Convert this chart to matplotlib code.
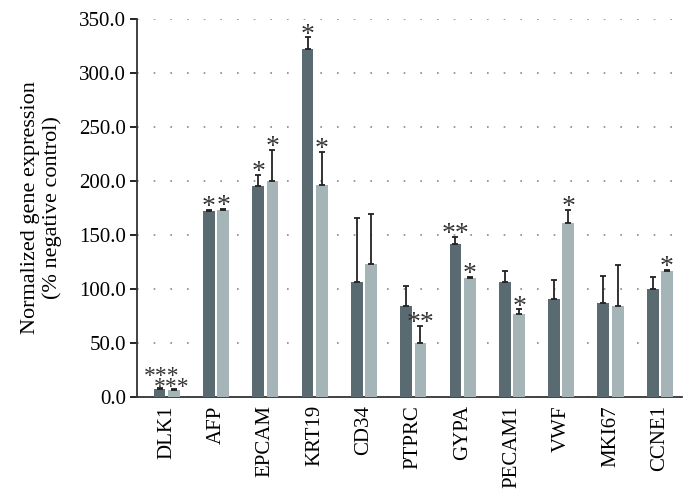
import numpy as np
import matplotlib
matplotlib.use("Agg")
import matplotlib.pyplot as plt

plt.rcParams['font.family'] = ['Liberation Serif', 'DejaVu Serif']

genes = ['DLK1', 'AFP', 'EPCAM', 'KRT19', 'CD34', 'PTPRC', 'GYPA',
         'PECAM1', 'VWF', 'MKI67', 'CCNE1']
dark_vals = [7, 172, 195, 322, 106, 84, 142, 106, 91, 87, 100]
dark_err = [1, 1, 11, 11, 60, 19, 6, 11, 17, 25, 11]
light_vals = [6, 173, 200, 196, 123, 50, 110, 77, 161, 84, 117]
light_err = [1, 1, 29, 31, 46, 16, 1, 4, 12, 38, 1]
dark_stars = ['***', '*', '*', '*', '', '', '**', '', '', '', '']
light_stars = ['***', '*', '*', '*', '', '**', '*', '*', '*', '', '*']

dark_col = '#5a6a71'
light_col = '#a5b4b7'

fig = plt.figure(figsize=(6.96, 5.03), dpi=100)
ax = fig.add_axes([0.197, 0.211, 0.783, 0.751])

x = np.arange(len(genes))
w = 0.24
off = 0.145

ax.bar(x - off, dark_vals, w, color=dark_col, zorder=3)
ax.bar(x + off, light_vals, w, color=light_col, zorder=3)
ax.errorbar(x - off, dark_vals, yerr=[np.zeros(len(x)), dark_err], fmt='none',
            ecolor='#222222', elinewidth=1.3, capsize=2.5, capthick=1.3, zorder=4)
ax.errorbar(x + off, light_vals, yerr=[np.zeros(len(x)), light_err], fmt='none',
            ecolor='#222222', elinewidth=1.3, capsize=2.5, capthick=1.3, zorder=4)

star_kw = dict(ha='center', va='baseline', fontsize=20, color='#333333', zorder=5)
for i in range(len(genes)):
    if i == 0:
        # DLK1: two stacked rows of stars, tightly packed
        small = dict(star_kw, fontsize=17)
        ax.text(x[i] - off + 0.05, 14, dark_stars[i], **small)
        ax.text(x[i] + off - 0.04, 4, light_stars[i], **small)
        continue
    if dark_stars[i]:
        ax.text(x[i] - off, dark_vals[i] + dark_err[i] - 4, dark_stars[i], **star_kw)
    if light_stars[i]:
        ax.text(x[i] + off, light_vals[i] + light_err[i] - 4, light_stars[i], **star_kw)

ax.set_xlim(-0.6, 10.45)
ax.set_ylim(0, 350)
ax.set_yticks(np.arange(0, 351, 50))
ax.set_yticklabels(['%.1f' % v for v in np.arange(0, 351, 50)], fontsize=15)
ax.set_xticks(x)
ax.set_xticklabels(genes, rotation=90, fontsize=15)
ax.tick_params(axis='x', length=0, pad=6)
ax.tick_params(axis='y', length=5, width=1.2, direction='out', pad=3)

ax.yaxis.grid(True, linestyle=(0, (1, 9)), color='#888888', linewidth=1.2, zorder=0)
ax.spines['top'].set_visible(False)
ax.spines['right'].set_visible(False)
ax.spines['left'].set_linewidth(1.3)
ax.spines['bottom'].set_linewidth(1.3)
ax.spines['left'].set_color('#333333')
ax.spines['bottom'].set_color('#333333')

ax.set_ylabel('Normalized gene expression\n(% negative control)', fontsize=16,
              linespacing=1.15, labelpad=12)

fig.savefig('out.png', dpi=100)
